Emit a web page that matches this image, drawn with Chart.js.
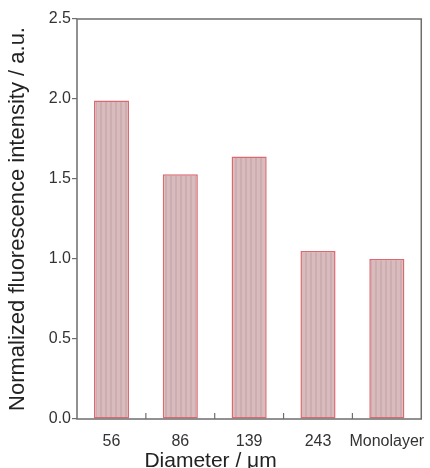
<!DOCTYPE html>
<html><head><meta charset="utf-8">
<script src="https://cdn.jsdelivr.net/npm/chart.js@4"></script>
<style>html,body{margin:0;padding:0;background:#fff;}#wrap{width:430px;height:468px;position:relative;}</style>
</head><body><div id="wrap"><canvas id="c" width="430" height="468"></canvas></div>
<script>
const categories = ["56", "86", "139", "243", "Monolayer"];
const intensity = [1.99, 1.53, 1.64, 1.05, 1.00];
const yTicks = [0.0, 0.5, 1.0, 1.5, 2.0, 2.5];
const xTitle = 'Diameter / μm';
const yTitle = 'Normalized fluorescence intensity / a.u.';

const AXIS_COLOR = '#6e6e6e';
const FONT = "'Liberation Sans', Arial, sans-serif";

function makePattern(){
  const p = document.createElement('canvas');
  p.width = 5; p.height = 4;
  const g = p.getContext('2d');
  g.fillStyle = '#d8bbbc'; g.fillRect(0,0,5,4);
  g.fillStyle = '#cdadaf'; g.fillRect(0,0,2,4);
  return g.createPattern(p, 'repeat');
}

const frame = {
  id: 'frame',
  afterDraw(chart){
    const {ctx, chartArea:a} = chart;
    const x = chart.scales.x;
    ctx.save();
    ctx.strokeStyle = AXIS_COLOR; ctx.lineWidth = 1.5;
    ctx.strokeRect(a.left, a.top, a.right - a.left, a.bottom - a.top);
    ctx.lineWidth = 1.2;
    for (let i = 0; i < categories.length - 1; i++){
      const px = (x.getPixelForValue(i) + x.getPixelForValue(i+1)) / 2;
      ctx.beginPath(); ctx.moveTo(px, a.bottom); ctx.lineTo(px, a.bottom - 6); ctx.stroke();
    }
    // x-axis title (sits slightly left of centre in the reference)
    ctx.fillStyle = '#222';
    ctx.font = '21px ' + FONT;
    ctx.textAlign = 'left';
    ctx.textBaseline = 'alphabetic';
    ctx.fillText(xTitle, x.getPixelForValue(0) + 33, chart.height - 1);
    ctx.restore();
  }
};

new Chart(document.getElementById('c'), {
  type: 'bar',
  data: { labels: categories, datasets: [{
    data: intensity,
    backgroundColor: makePattern(),
    borderColor: '#dc6870',
    borderWidth: 1.5,
    borderSkipped: false,
    categoryPercentage: 1.0,
    barPercentage: 0.51
  }]},
  options: {
    responsive: false, animation: false,
    layout: { padding: { top: 19, right: 8, left: 0, bottom: 0 } },
    plugins: { legend: { display: false }, tooltip: { enabled: false } },
    scales: {
      x: {
        grid: { display: false },
        border: { display: false },
        ticks: { color: '#333', font: { family: FONT, size: 16 }, padding: 5, maxRotation: 0, autoSkip: false },
        title: { display: false, text: xTitle },
        afterFit(s){ s.height = 49; }
      },
      y: {
        min: 0, max: 2.5,
        afterBuildTicks(s){ s.ticks = yTicks.map(v => ({ value: v })); },
        grid: { drawOnChartArea: false, drawTicks: true, tickLength: 5, color: AXIS_COLOR, lineWidth: 1.2 },
        border: { display: false },
        ticks: { color: '#333', font: { family: FONT, size: 16 }, padding: 1, callback: v => Number(v).toFixed(1) },
        title: { display: true, text: yTitle, color: '#222', font: { family: FONT, size: 22 }, padding: { top: 5, bottom: 0 } },
        afterFit(s){ s.width = 77; }
      }
    }
  },
  plugins: [frame]
});
</script></body></html>
